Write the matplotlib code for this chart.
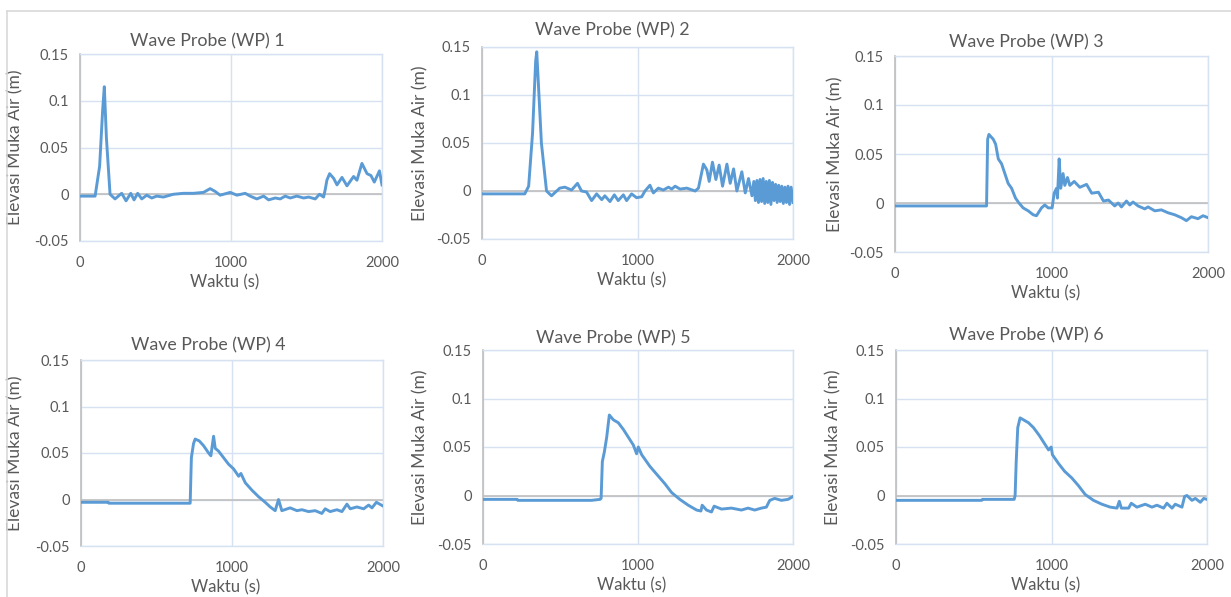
import matplotlib.pyplot as plt
from matplotlib.lines import Line2D

# ======== Data ========
t1 = [0, 100, 130, 150, 161, 175, 199, 232, 276, 305, 336, 358, 382, 409, 442, 475, 508, 552,
      619, 685, 751, 818, 862, 895, 928, 995, 1039, 1094, 1127, 1171, 1216, 1249, 1293, 1326,
      1359, 1392, 1436, 1481, 1514, 1558, 1586, 1613, 1624, 1635, 1653, 1680, 1702, 1735, 1768,
      1812, 1834, 1867, 1901, 1927, 1949, 1983, 2000]
wp1 = [-0.002, -0.002, 0.030, 0.090, 0.115, 0.060, 0.000, -0.005, 0.001, -0.007, 0.001, -0.006,
       0.001, -0.005, -0.001, -0.004, -0.002, -0.003, 0.000, 0.001, 0.001, 0.002, 0.006, 0.003,
       -0.001, 0.002, -0.001, 0.001, -0.002, -0.005, -0.002, -0.006, -0.004, -0.005, -0.002,
       -0.004, -0.002, -0.004, -0.003, -0.005, 0.000, -0.003, 0.005, 0.015, 0.022, 0.017, 0.010,
       0.018, 0.009, 0.019, 0.015, 0.033, 0.022, 0.020, 0.013, 0.025, 0.010]

t2 = [0, 275, 300, 325, 345, 352, 360, 382, 415, 447, 500, 533, 576, 614, 640, 672, 705, 737,
      770, 790, 823, 851, 876, 909, 930, 962, 994, 1027, 1048, 1080, 1102, 1134, 1166, 1199,
      1220, 1242, 1274, 1317, 1371, 1392, 1424, 1446, 1461, 1482, 1504, 1525, 1547, 1575, 1596,
      1618, 1639, 1671, 1693, 1714, 1736, 1748, 1758, 1768, 1778, 1788, 1798, 1808, 1818, 1828,
      1838, 1848, 1858, 1868, 1878, 1888, 1898, 1908, 1918, 1928, 1938, 1948, 1958, 1968, 1978,
      1988, 2000]
wp2 = [-0.003, -0.003, 0.005, 0.060, 0.135, 0.145, 0.120, 0.050, 0.000, -0.005, 0.003, 0.004,
       0.001, 0.008, 0.000, -0.001, -0.010, -0.003, -0.009, -0.005, -0.011, -0.004, -0.010,
       -0.004, -0.010, -0.003, -0.007, -0.006, 0.000, 0.006, -0.002, 0.003, 0.001, 0.004, 0.002,
       0.005, 0.002, 0.003, 0.000, 0.003, 0.028, 0.022, 0.010, 0.030, 0.012, 0.027, 0.005, 0.028,
       0.008, 0.023, 0.000, 0.020, -0.002, 0.013, -0.005, 0.010, -0.010, 0.011, -0.012, 0.012,
       -0.011, 0.013, -0.013, 0.010, -0.012, 0.011, -0.014, 0.009, -0.010, 0.007, -0.012, 0.006,
       -0.011, 0.005, -0.013, 0.004, -0.012, 0.005, -0.014, 0.004, -0.012]

t3 = [0, 585, 592, 600, 628, 643, 660, 681, 702, 723, 745, 770, 792, 819, 851, 883, 904, 936,
      957, 979, 1004, 1017, 1032, 1038, 1049, 1059, 1074, 1085, 1102, 1117, 1145, 1181, 1224,
      1257, 1300, 1332, 1364, 1404, 1426, 1447, 1479, 1500, 1521, 1553, 1596, 1617, 1660, 1702,
      1745, 1787, 1830, 1862, 1894, 1936, 1968, 2000]
wp3 = [-0.003, -0.003, 0.065, 0.070, 0.065, 0.060, 0.045, 0.040, 0.030, 0.020, 0.015, 0.005,
       0.000, -0.005, -0.008, -0.012, -0.013, -0.005, -0.002, -0.005, -0.005, 0.010, 0.015,
       0.005, 0.045, 0.015, 0.030, 0.018, 0.026, 0.018, 0.022, 0.016, 0.019, 0.010, 0.011,
       0.002, 0.003, -0.003, 0.000, -0.004, 0.002, -0.002, 0.001, -0.003, -0.006, -0.004,
       -0.008, -0.007, -0.010, -0.012, -0.015, -0.018, -0.014, -0.016, -0.013, -0.015]

t4 = [0, 180, 185, 723, 731, 745, 756, 783, 811, 845, 860, 878, 889, 911, 944, 977, 1010, 1044,
      1059, 1088, 1132, 1176, 1220, 1253, 1286, 1308, 1330, 1385, 1430, 1463, 1507, 1551, 1595,
      1617, 1650, 1695, 1728, 1761, 1783, 1827, 1872, 1905, 1927, 1956, 2000]
wp4 = [-0.003, -0.003, -0.004, -0.004, 0.045, 0.060, 0.065, 0.063, 0.058, 0.050, 0.047, 0.068,
       0.055, 0.052, 0.045, 0.038, 0.033, 0.025, 0.028, 0.018, 0.010, 0.003, -0.003, -0.008,
       -0.012, 0.000, -0.012, -0.009, -0.012, -0.011, -0.013, -0.012, -0.015, -0.010, -0.013,
       -0.011, -0.013, -0.005, -0.010, -0.008, -0.010, -0.006, -0.009, -0.003, -0.007]

t5 = [0, 220, 225, 700, 755, 762, 770, 783, 798, 815, 841, 873, 906, 938, 970, 991, 1002, 1024,
      1077, 1120, 1174, 1217, 1270, 1324, 1378, 1406, 1414, 1442, 1474, 1491, 1539, 1603, 1667,
      1710, 1753, 1796, 1828, 1850, 1882, 1925, 1968, 2000]
wp5 = [-0.004, -0.004, -0.005, -0.005, -0.004, -0.003, 0.035, 0.045, 0.060, 0.083, 0.078, 0.075,
       0.068, 0.060, 0.052, 0.043, 0.050, 0.042, 0.030, 0.022, 0.012, 0.003, -0.004, -0.010,
       -0.015, -0.016, -0.010, -0.015, -0.017, -0.011, -0.014, -0.013, -0.015, -0.013, -0.015,
       -0.013, -0.012, -0.005, -0.003, -0.005, -0.004, -0.001]

t6 = [0, 551, 556, 760, 766, 773, 783, 798, 820, 852, 884, 921, 949, 981, 998, 1006, 1045, 1084,
      1131, 1174, 1217, 1270, 1324, 1378, 1421, 1436, 1449, 1496, 1513, 1549, 1603, 1646, 1678,
      1721, 1742, 1775, 1796, 1839, 1856, 1871, 1903, 1925, 1957, 1979, 2000]
wp6 = [-0.005, -0.005, -0.004, -0.004, 0.000, 0.035, 0.070, 0.080, 0.078, 0.075, 0.070, 0.062,
       0.055, 0.047, 0.050, 0.042, 0.033, 0.025, 0.018, 0.010, 0.001, -0.005, -0.009, -0.012,
       -0.013, -0.006, -0.013, -0.013, -0.008, -0.012, -0.009, -0.012, -0.010, -0.013, -0.008,
       -0.013, -0.009, -0.012, -0.001, 0.000, -0.005, -0.003, -0.007, -0.003, -0.004]

series = [(t1, wp1), (t2, wp2), (t3, wp3), (t4, wp4), (t5, wp5), (t6, wp6)]
titles = ["Wave Probe (WP) %d" % i for i in range(1, 7)]
y_ticks = [-0.05, 0, 0.05, 0.1, 0.15]
y_tick_labels = ["-0.05", "0", "0.05", "0.1", "0.15"]
x_ticks = [0, 1000, 2000]

# ======== Layout (pixel boxes of each plot area: x0, x1, ytop, ybottom) ========
W, H = 1231, 597
boxes = [(80, 382, 54, 241), (482, 793, 47, 239), (895, 1208, 56, 252),
         (81, 383, 360, 546), (483, 793, 350, 544), (896, 1207, 350, 544)]
title_gap = [13, 17, 14, 15, 12, 15]
ylab_x = [15, 420, 835, 15, 420, 833]

line_color = '#5b9bd5'
grid_color = '#d6e2f2'
axis_color = '#bfbfbf'
text_color = '#595959'

plt.rcParams['font.family'] = ['Lato', 'DejaVu Sans']

fig = plt.figure(figsize=(W / 100, H / 100), dpi=100)

for i, (t, y) in enumerate(series):
    x0, x1, yt, yb = boxes[i]
    ax = fig.add_axes([x0 / W, 1 - yb / H, (x1 - x0) / W, (yb - yt) / H])
    ax.plot(t, y, color=line_color, lw=2.1, zorder=3)
    ax.axhline(0, color=axis_color, lw=1.2, zorder=2)
    ax.set_xlim(0, 2000)
    ax.set_ylim(-0.05, 0.15)
    ax.set_xticks(x_ticks)
    ax.set_yticks(y_ticks)
    ax.set_yticklabels(y_tick_labels)
    ax.grid(True, color=grid_color, lw=1.0, zorder=1)
    ax.tick_params(length=0, labelsize=10.5, colors=text_color)
    ax.tick_params(axis='x', pad=11)
    ax.tick_params(axis='y', pad=8)
    for side in ['top', 'right', 'bottom']:
        ax.spines[side].set_color(grid_color)
        ax.spines[side].set_linewidth(1.0)
    ax.spines['left'].set_color(axis_color)
    ax.spines['left'].set_linewidth(1.2)

    ax.set_xlabel("Waktu (s)", fontsize=12, color=text_color)
    ax.xaxis.label.set_va('center')
    ax.xaxis.set_label_coords(0.48, -41 / (yb - yt))
    ax.set_ylabel("Elevasi Muka Air (m)", fontsize=12.5, color=text_color)
    ax.yaxis.label.set_va('center')
    ax.yaxis.set_label_coords((ylab_x[i] - x0) / (x1 - x0), 0.5)

    ax.text(0.42, 1 + title_gap[i] / (yb - yt), titles[i], transform=ax.transAxes,
            ha='center', va='center', fontsize=12.8, color=text_color)

# outer chart border
fig.add_artist(Line2D([7 / W, 1], [1 - 11 / H, 1 - 11 / H], color='#d9d9d9', lw=1.2))
fig.add_artist(Line2D([7 / W, 7 / W], [0, 1 - 11 / H], color='#d9d9d9', lw=1.2))

plt.savefig("out.png", dpi=100)
